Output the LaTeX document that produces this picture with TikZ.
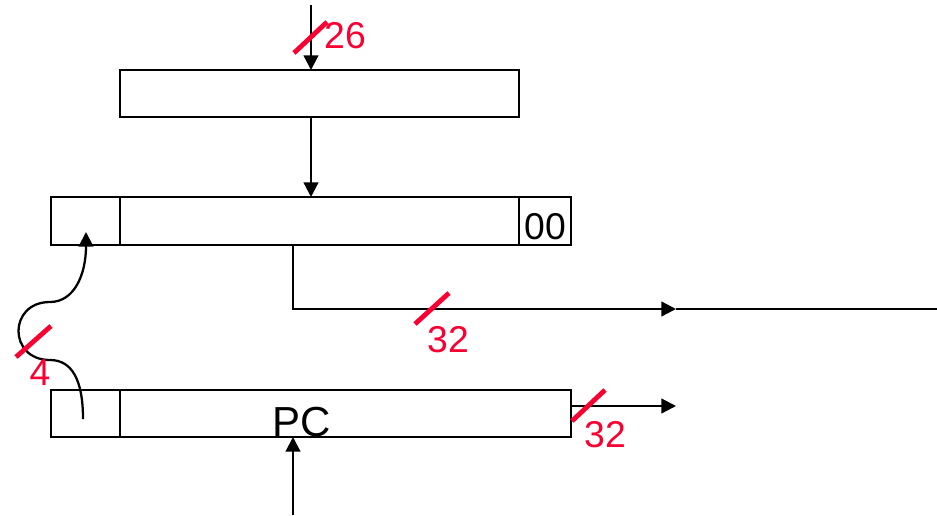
\documentclass[tikz,border=0pt]{standalone}
\usepackage{fontspec}
\setmainfont{Liberation Sans}
\usetikzlibrary{arrows.meta}
\definecolor{lred}{RGB}{250,0,50}
\begin{document}
\begin{tikzpicture}[x=0.75pt,y=-0.75pt,
  box/.style={draw,line width=1.7pt,inner sep=0pt,outer sep=0pt},
  wire/.style={line width=1.7pt},
  arr/.style={wire,-{Triangle[length=11pt,width=11pt]}},
  slash/.style={draw=lred,line width=3.6pt},
  rlab/.style={text=lred,font=\fontsize{28}{32}\selectfont,inner sep=0pt},
  blab/.style={font=\fontsize{28}{32}\selectfont,inner sep=0pt}]
\useasboundingbox (0,0) rectangle (937,515);
% boxes
\node[box,minimum width=299.25pt,minimum height=35.25pt] (tb) at (319.5,93.5) {};
\node[box,minimum width=51.75pt,minimum height=36pt] (ml) at (85.5,221) {};
\node[box,minimum width=299.25pt,minimum height=36pt] (mm) at (319.5,221) {};
\node[box,minimum width=39pt,minimum height=36pt] (mr) at (545,221) {};
\node[box,minimum width=51.75pt,minimum height=35.25pt] (bl) at (85.5,413.5) {};
\node[box,minimum width=338.25pt,minimum height=35.25pt] (bm) at (345.5,413.5) {};
% labels
\node[blab] (l00) at (545,227) {00};
\node[blab,font=\fontsize{31.5}{35}\selectfont] (pc) at (302,422) {PC};
% coordinates
\coordinate (ti) at (311,5);
\coordinate (sp) at (293,309);
\coordinate (mid) at (676,309);
\coordinate (re) at (937,309);
\coordinate (pb) at (293,515);
\coordinate (po) at (676,406);
\coordinate (cs) at (83,419);
\coordinate (ce) at (86,232);
% wires
\draw[arr] (ti) -- (ti |- tb.north);
\draw[arr] (tb.south -| ti) -- (ti |- mm.north);
\draw[arr] (mm.south -| sp) -- (sp) -- (mid);
\draw[wire] (mid) -- (re);
\draw[arr] (pb) -- (pb |- bm.south);
\draw[arr] (bm.east |- po) -- (po);
\draw[arr] (cs) .. controls (83,380) and (72,360) .. (50,360)
  .. controls (8,360) and (8,302) .. (50,302)
  .. controls (74,302) and (86,275) .. (ce);
% bus width marks
\draw[slash] (294,53) -- (327,22);
\draw[slash] (415,324) -- (449,293);
\draw[slash] (572,421) -- (605,390);
\draw[slash] (16,357) -- (51,326);
\node[rlab] (n26) at (345,36) {26};
\node[rlab] (n32a) at (448,340) {32};
\node[rlab] (n32b) at (605,435) {32};
\node[rlab] (n4) at (40,373) {4};
\end{tikzpicture}
\end{document}
